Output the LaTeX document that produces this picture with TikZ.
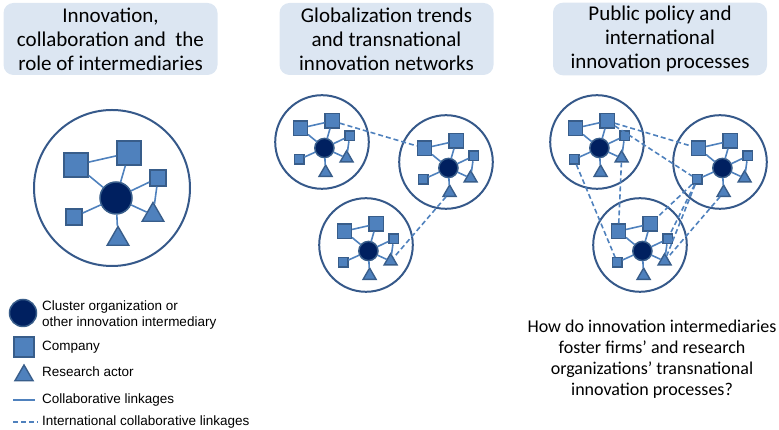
\documentclass[tikz,border=0pt]{standalone}
\usepackage{fontspec}
\setmainfont{Carlito}
\newfontfamily\legendFont{Liberation Sans}
\usepackage{xcolor}
\definecolor{firmBlue}{HTML}{4F81BD}
\definecolor{firmEdge}{HTML}{385D8A}
\definecolor{hubNavy}{HTML}{002060}
\definecolor{ringEdge}{HTML}{36598A}
\definecolor{headBg}{HTML}{DCE6F2}
\usepackage{tikz}
\usetikzlibrary{positioning,shapes.geometric}
\tikzset{%
  headBox/.style={%
    rectangle,
    rounded corners=10pt,
    fill=headBg,
    minimum width=214pt,
    minimum height=72pt,
    align=center,
    font=\fontsize{21}{24}\selectfont
  },
  clusterRing/.style={%
    circle,
    draw=ringEdge,
    line width=2pt,
    minimum size=156pt,
    inner sep=0pt
  },
  hubNode/.style={%
    circle,
    fill=hubNavy,
    draw=firmEdge,
    line width=1.5pt,
    minimum size=32pt,
    inner sep=0pt
  },
  firmBig/.style={%
    rectangle,
    fill=firmBlue,
    draw=firmEdge,
    line width=1.4pt,
    minimum size=24pt,
    inner sep=0pt
  },
  firmSmall/.style={%
    firmBig,
    minimum size=16pt
  },
  researchNode/.style={%
    regular polygon,
    regular polygon sides=3,
    fill=firmBlue,
    draw=firmEdge,
    line width=1.4pt,
    minimum size=25pt,
    inner sep=0pt
  },
  linkLine/.style={%
    draw=firmBlue,
    line width=1.6pt
  },
  intlLine/.style={%
    draw=firmBlue,
    line width=1.6pt,
    dash pattern=on 5pt off 3pt
  },
  legendText/.style={%
    anchor=west,
    align=left,
    inner sep=0pt,
    font=\legendFont\fontsize{13.5}{16}\selectfont
  }
}

% one cluster: name, x, y, scale
\newcommand{\clusterNet}[4]{%
  \begin{scope}[shift={(#2,#3)}, scale=#4, transform shape]
    \node[clusterRing] (#1ring) at (0,0) {};
    \node[hubNode] (#1hub) at (4,-10) {};
    \node[firmBig] (#1fa) at (-36,23) {};
    \node[firmBig] (#1fb) at (17,35) {};
    \node[firmSmall] (#1fc) at (46,10) {};
    \node[firmSmall] (#1fd) at (-38,-29) {};
    \node[researchNode] (#1ra) at (41,-27) {};
    \node[researchNode] (#1rb) at (6,-51) {};
    \draw[linkLine] (#1hub) -- (#1fa);
    \draw[linkLine] (#1hub) -- (#1fb);
    \draw[linkLine] (#1fa) -- (#1fb);
    \draw[linkLine] (#1hub) -- (#1fc);
    \draw[linkLine] (#1fc) -- (#1ra);
    \draw[linkLine] (#1hub) -- (#1fd);
    \draw[linkLine] (#1hub) -- (#1ra);
    \draw[linkLine] (#1hub) -- (#1rb);
  \end{scope}}

\begin{document}
\begin{tikzpicture}[x=1pt, y=1pt]
  \useasboundingbox (0,0) rectangle (779,430);

  % Headers
  \node[headBox] (head1) at (110.5,391) {Innovation,\\collaboration and\ \ the\\role of intermediaries};
  \node[headBox] (head2) at (386.5,391) {Globalization trends\\and transnational\\innovation networks};
  \node[headBox] (head3) at (660,391) {Public policy and\\international\\innovation processes};

  % Panel 1: one cluster
  \clusterNet{c1}{112}{242}{1}

  % Panel 2: transnational networks
  \clusterNet{c21}{322}{288}{0.6}
  \clusterNet{c22}{446}{268}{0.6}
  \clusterNet{c23}{366}{185}{0.6}
  \draw[intlLine] (c21fb) -- (c22fa);
  \draw[intlLine] (c22rb) -- (c23ra);

  % Panel 3: policy and processes
  \clusterNet{c31}{597}{288}{0.6}
  \clusterNet{c32}{720}{268}{0.6}
  \clusterNet{c33}{640}{185}{0.6}
  \draw[intlLine] (c31fb) -- (c32fa);
  \draw[intlLine] (c31fb) -- (c32fd);
  \draw[intlLine] (c31fd) -- (c33fd);
  \draw[intlLine] (c31ra) -- (c33fa);
  \draw[intlLine] (c32fd) -- (c33fb);
  \draw[intlLine] (c32fd) -- (c33fc);
  \draw[intlLine] (c32fd) -- (c33ra);
  \draw[intlLine] (c32rb) -- (c33ra);

  % Question
  \node[align=center, font=\fontsize{18}{21}\selectfont] (question) at (652,70.5)
    {How do innovation intermediaries\\foster firms’ and research\\organizations’ transnational\\innovation processes?};

  % Legend
  \node[hubNode, minimum size=27pt] (keyHub) at (23,117) {};
  \node[firmBig, minimum size=20pt] (keyFirm) at (24,83) {};
  \node[researchNode, minimum size=21pt] (keyResearch) at (24,54.5) {};
  \coordinate (keyLinkA) at (13,30);
  \coordinate (keyLinkB) at (35,30);
  \coordinate (keyIntlA) at (13,8);
  \coordinate (keyIntlB) at (38,8);
  \draw[linkLine] (keyLinkA) -- (keyLinkB);
  \draw[intlLine] (keyIntlA) -- (keyIntlB);
  \node[legendText] (keyHubText) at (42,115) {Cluster organization or\\other innovation intermediary};
  \node[legendText] (keyFirmText) at (42,83) {Company};
  \node[legendText] (keyResearchText) at (42,58) {Research actor};
  \node[legendText] (keyLinkText) at (42,30) {Collaborative linkages};
  \node[legendText] (keyIntlText) at (42,8) {International collaborative linkages};
\end{tikzpicture}
\end{document}
